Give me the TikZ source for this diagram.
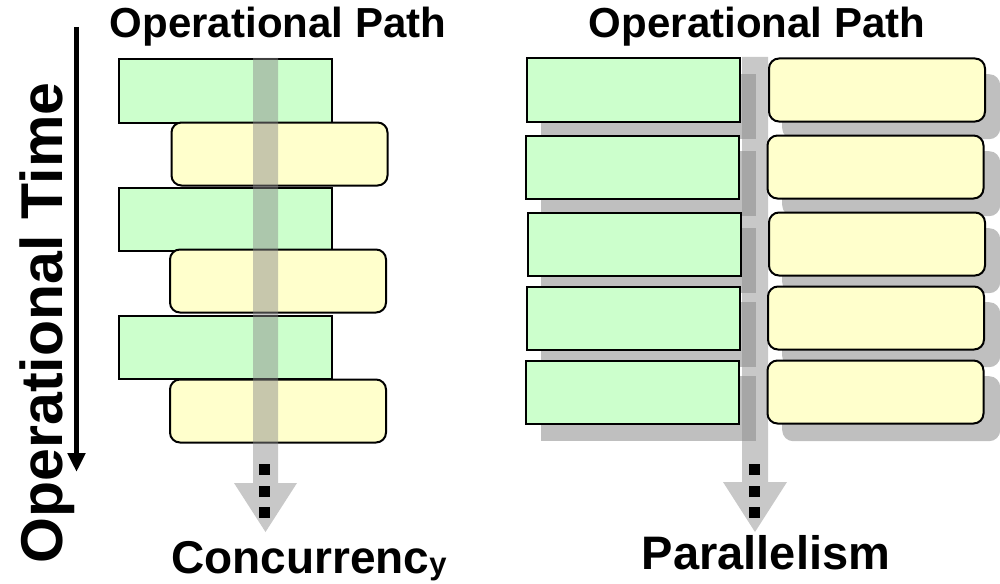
\documentclass[tikz,border=0pt]{standalone}
\usepackage{fontspec}
\setmainfont{Liberation Sans}
\usetikzlibrary{arrows.meta}

\definecolor{boxgreen}{HTML}{CCFFCC}
\definecolor{boxyellow}{HTML}{FFFFCC}
\definecolor{shadowgray}{HTML}{BFBFBF}
\definecolor{pathgray}{RGB}{138,138,138}

\begin{document}
\begin{tikzpicture}[x=1pt,y=-1pt,
  greenbox/.style={draw=black, line width=2pt, fill=boxgreen, inner sep=0pt,
    anchor=north west, minimum width=213pt, minimum height=63pt},
  yellowbox/.style={draw=black, line width=2pt, fill=boxyellow, inner sep=0pt,
    anchor=north west, minimum width=216pt, minimum height=63pt, rounded corners=10pt},
  greenshadow/.style={fill=shadowgray, draw=none, inner sep=0pt,
    anchor=north west, minimum width=215pt, minimum height=65pt},
  yellowshadow/.style={fill=shadowgray, draw=none, inner sep=0pt,
    anchor=north west, minimum width=218pt, minimum height=65pt, rounded corners=11pt},
  pathband/.style={fill=pathgray, fill opacity=0.47, draw=none},
  dotmark/.style={fill=black, draw=none, inner sep=0pt, minimum size=11pt},
  title/.style={font=\bfseries\fontsize{42}{42}\selectfont, anchor=base, inner sep=0pt},
  caption/.style={inner sep=0pt}
]
\useasboundingbox (0,0) rectangle (1000,583);

% ---------- left: concurrency ----------
\node[title] (ltitle) at (278,38) {Operational Path};

\node[greenbox]  (lg1) at (117.5,58.5)  {};
\node[yellowbox] (ly1) at (170.5,121.5) {};
\node[greenbox]  (lg2) at (117.5,186.5) {};
\node[yellowbox] (ly2) at (169,248.5)   {};
\node[greenbox]  (lg3) at (117.5,314.5) {};
\node[yellowbox] (ly3) at (169,378.5)   {};

% translucent operational path arrow
\fill[pathband] (253,58) -- (278,58) -- (278,483) -- (297,483) -- (265.5,532)
  -- (234,483) -- (253,483) -- cycle;
\node[dotmark] (ld1) at (264,469) {};
\node[dotmark] (ld2) at (264,491) {};
\node[dotmark] (ld3) at (264,512) {};

% time axis
\coordinate (tstart) at (76.5,27);
\coordinate (tend) at (76.5,472);
\draw[line width=5pt, -{Triangle[width=17pt,length=19pt]}] (tstart) -- (tend);
\node[rotate=90, anchor=base, inner sep=0pt,
  font=\bfseries\fontsize{59}{59}\selectfont] (ttime) at (62,323) {Operational Time};

\node[caption, anchor=base west, font=\bfseries\fontsize{46}{46}\selectfont] (lcap) at (171,573)
  {Concurrenc\raisebox{-1.5pt}{\fontsize{31}{31}\selectfont y}};

% ---------- right: parallelism ----------
\node[title] (rtitle) at (757,38) {Operational Path};

\foreach \i/\yy in {1/58, 2/135, 3/212, 4/286, 5/360} {
  \node[greenshadow]  (rgs\i) at (541,\yy+16) {};
  \node[yellowshadow] (rys\i) at (782,\yy+16) {};
}

\fill[pathband] (742,57) -- (768,57) -- (768,482) -- (787,482) -- (755,532)
  -- (723,482) -- (742,482) -- cycle;

\node[greenbox] (rg1) at (526,57.5)  {};
\node[greenbox] (rg2) at (525,134.5) {};
\node[greenbox] (rg3) at (527,211.5) {};
\node[greenbox] (rg4) at (526,285.5) {};
\node[greenbox] (rg5) at (525,359.5) {};

\node[yellowbox] (ry1) at (768,57.5)  {};
\node[yellowbox] (ry2) at (766.5,134.5) {};
\node[yellowbox] (ry3) at (768,211.5) {};
\node[yellowbox] (ry4) at (767,285.5) {};
\node[yellowbox] (ry5) at (766.5,359.5) {};

\node[dotmark] (rd1) at (754,469) {};
\node[dotmark] (rd2) at (754,491) {};
\node[dotmark] (rd3) at (754,512) {};

\node[caption, anchor=base, font=\bfseries\fontsize{47}{47}\selectfont] (rcap) at (766,569) {Parallelism};
\end{tikzpicture}
\end{document}
